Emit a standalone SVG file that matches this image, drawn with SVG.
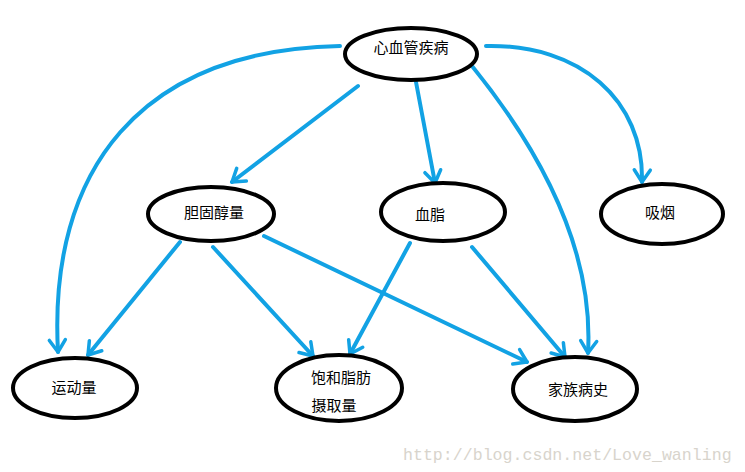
<svg xmlns="http://www.w3.org/2000/svg" width="745" height="472" viewBox="0 0 745 472">
<style>
.n ellipse{fill:#fff;stroke:#000;stroke-width:4}
.n text{font-family:"Noto Sans CJK SC","Liberation Sans",sans-serif;font-size:15px;fill:#000;text-anchor:middle}
.e path{fill:none;stroke:#12a2e4;stroke-width:4;stroke-linecap:round}
.wm{font-family:"Liberation Mono",monospace;font-size:16.6px;fill:#d8d4cc}
</style>
<defs>
<marker id="ah" markerUnits="userSpaceOnUse" viewBox="-14 -10 18 20" refX="0" refY="0" markerWidth="18" markerHeight="20" orient="auto" overflow="visible">
<path d="M-12,-8 L0,0 L-12,8" fill="none" stroke="#12a2e4" stroke-width="3.5" stroke-linecap="round" stroke-linejoin="round"/>
</marker>
</defs>
<rect width="745" height="472" fill="#fff"/>
<g class="e" id="connectors">
<path d="M340,46 C140,50 48,170 58,352" marker-end="url(#ah)"/>
<path d="M358,86 L232,182" marker-end="url(#ah)"/>
<path d="M416,82 L435,183" marker-end="url(#ah)"/>
<path d="M486,46 C580,44 644,100 642,182" marker-end="url(#ah)"/>
<path d="M472,66 C540,150 594,250 588,353" marker-end="url(#ah)"/>
<path d="M180,242 L88,355" marker-end="url(#ah)"/>
<path d="M213,247 L313,356" marker-end="url(#ah)"/>
<path d="M264,236 L527,362" marker-end="url(#ah)"/>
<path d="M410,243 L350,354" marker-end="url(#ah)"/>
<path d="M472,247 L565,357" marker-end="url(#ah)"/>
</g>
<g class="n" id="n_cvd"><ellipse cx="411" cy="54" rx="66" ry="26"/><text x="411" y="53">心血管疾病</text></g>
<g class="n" id="n_chol"><ellipse cx="211" cy="214" rx="63" ry="27"/><text x="214" y="218">胆固醇量</text></g>
<g class="n" id="n_lipid"><ellipse cx="443" cy="212" rx="62" ry="29"/><text x="430" y="220">血脂</text></g>
<g class="n" id="n_smoke"><ellipse cx="662" cy="214" rx="61" ry="30"/><text x="660" y="218">吸烟</text></g>
<g class="n" id="n_exercise"><ellipse cx="75" cy="388" rx="62" ry="30"/><text x="74" y="393">运动量</text></g>
<g class="n" id="n_fat"><ellipse cx="339" cy="388" rx="63" ry="33"/><text x="341" y="383">饱和脂肪</text><text x="334" y="411">摄取量</text></g>
<g class="n" id="n_family"><ellipse cx="575" cy="389" rx="62" ry="32"/><text x="578" y="395">家族病史</text></g>
<text class="wm" x="403" y="460">http://blog.csdn.net/Love_wanling</text>
</svg>
